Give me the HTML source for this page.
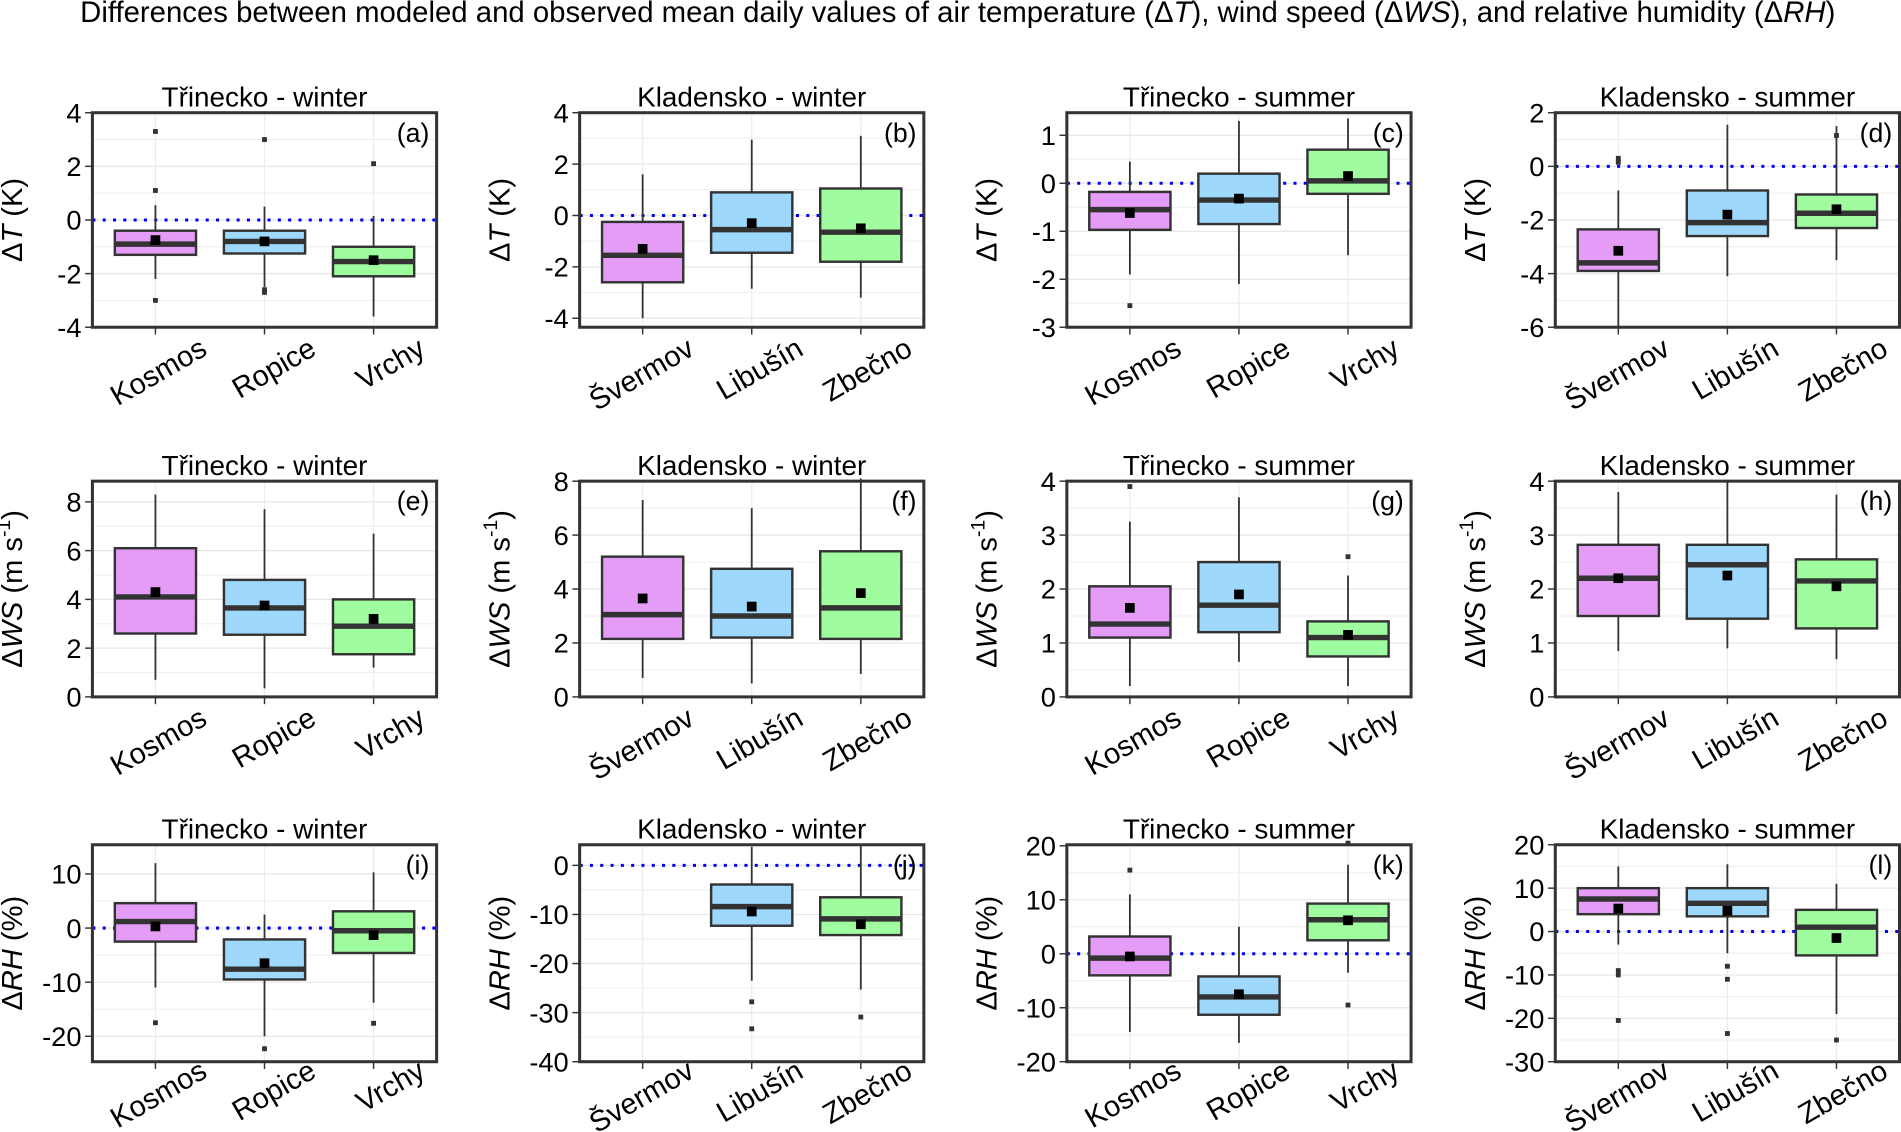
<!DOCTYPE html>
<html><head><meta charset="utf-8"><style>
html,body{margin:0;padding:0;background:#fff;}
svg{display:block;font-family:"Liberation Sans",sans-serif;}
</style></head><body>
<svg id="fig" width="1901" height="1132" viewBox="0 0 1568 934" xmlns="http://www.w3.org/2000/svg">
<text x="790" y="18" font-size="24.2" text-anchor="middle">Differences between modeled and observed mean daily values of air temperature (Δ<tspan font-style="italic">T</tspan>), wind speed (Δ<tspan font-style="italic">WS</tspan>), and relative humidity (Δ<tspan font-style="italic">RH</tspan>)</text>
</svg>
<script>
// categories
const trinCats = ["Kosmos","Ropice","Vrchy"];
const kladCats = ["Švermov","Libušín","Zbečno"];
const titles = ["Třinecko - winter","Kladensko - winter","Třinecko - summer","Kladensko - summer"];
const letters = ["a","b","c","d","e","f","g","h","i","j","k","l"];
// y tick labels per panel
const ticksA=[-4,-2,0,2,4], ticksB=[-4,-2,0,2,4], ticksC=[-3,-2,-1,0,1], ticksD=[-6,-4,-2,0,2];
const ticksE=[0,2,4,6,8], ticksF=[0,2,4,6,8], ticksG=[0,1,2,3,4], ticksH=[0,1,2,3,4];
const ticksI=[-20,-10,0,10], ticksJ=[-40,-30,-20,-10,0], ticksK=[-20,-10,0,10,20], ticksL=[-30,-20,-10,0,10,20];
// y domains [min,max]
const domA=[-4,4], domB=[-4.35,4], domC=[-3,1.47], domD=[-6,2], domE=[0,8.85], domF=[0,8.0], domG=[0,4], domH=[0,4];
const domI=[-24.7,15.4], domJ=[-40,4.2], domK=[-20,20.2], domL=[-30,20];
// box stats per category: [q1,q3,median,mean,whiskerLow,whiskerHigh]
const statsA=[[-1.3,-0.4,-0.9,-0.75,-2.2,0.55],[-1.25,-0.4,-0.8,-0.8,-2.5,0.5],[-2.1,-1.0,-1.55,-1.5,-3.6,0.15]];
const outA=[[3.3,1.1,-3.0],[3.0,-2.6,-2.7],[2.1]];
const statsB=[[-2.6,-0.25,-1.55,-1.3,-4.0,1.6],[-1.45,0.9,-0.55,-0.3,-2.85,2.95],[-1.8,1.05,-0.65,-0.5,-3.2,3.1]];
const outB=[[],[],[]];
const statsC=[[-0.97,-0.18,-0.55,-0.62,-1.9,0.45],[-0.85,0.2,-0.35,-0.32,-2.1,1.3],[-0.22,0.7,0.05,0.15,-1.5,1.35]];
const outC=[[-2.55],[],[]];
const statsD=[[-3.9,-2.35,-3.6,-3.15,-6.0,-0.9],[-2.6,-0.9,-2.1,-1.8,-4.1,1.55],[-2.3,-1.05,-1.75,-1.6,-3.5,1.5]];
const outD=[[0.3,0.15],[],[1.15]];
const statsE=[[2.6,6.1,4.1,4.3,0.7,8.3],[2.55,4.8,3.65,3.75,0.35,7.7],[1.75,4.0,2.9,3.2,1.2,6.7]];
const outE=[[],[],[]];
const statsF=[[2.15,5.2,3.05,3.65,0.7,7.3],[2.2,4.75,3.0,3.35,0.5,7.0],[2.15,5.4,3.3,3.85,0.85,8.1]];
const outF=[[],[],[]];
const statsG=[[1.1,2.05,1.35,1.65,0.2,3.25],[1.2,2.5,1.7,1.9,0.65,3.7],[0.75,1.4,1.1,1.15,0.2,2.25]];
const outG=[[3.9],[],[2.6]];
const statsH=[[1.5,2.82,2.2,2.2,0.85,3.8],[1.45,2.82,2.45,2.25,0.9,4.0],[1.27,2.55,2.15,2.05,0.7,3.75]];
const outH=[[],[],[]];
const statsI=[[-2.5,4.6,1.2,0.3,-11,12],[-9.5,-2.1,-7.6,-6.5,-20,2.5],[-4.6,3.1,-0.5,-1.3,-13.8,10.3]];
const outI=[[-17.5],[-22.3],[-17.6]];
const statsJ=[null,[-12.3,-3.9,-8.4,-9.4,-23.5,3.8],[-14.2,-6.5,-10.9,-12,-25.3,4.3]];
const outJ=[[],[-27.8,-33.3],[-30.9]];
const statsK=[[-4,3.2,-0.8,-0.5,-14.5,11],[-11.3,-4.2,-8,-7.5,-16.5,5],[2.5,9.3,6.3,6.2,-3.5,16.5]];
const outK=[[15.5],[],[20.5,-9.5]];
const statsL=[[4,10,7.5,5.3,-3,15],[3.5,10,6.5,4.8,-5,15.5],[-5.5,5,1,-1.5,-19,11]];
const outL=[[-9,-10,-20.5],[-8,-11,-23.5],[-25]];

const NS="http://www.w3.org/2000/svg";
const svg=document.getElementById("fig");
function mk(tag,attrs,parent){const e=document.createElementNS(NS,tag);for(const k in attrs)e.setAttribute(k,attrs[k]);(parent||svg).appendChild(e);return e;}
const colLeft=[76,478,880,1283], W=284;
const rowTop=[93,397,697], rowBot=[270,575,876];
const labOff=[22,22,12];
const fills=["#e49cf7","#9ed8fc","#9ffc9f"];
const panels=[
 [ticksA,domA,statsA,outA,true],[ticksB,domB,statsB,outB,true],[ticksC,domC,statsC,outC,true],[ticksD,domD,statsD,outD,true],
 [ticksE,domE,statsE,outE,false],[ticksF,domF,statsF,outF,false],[ticksG,domG,statsG,outG,false],[ticksH,domH,statsH,outH,false],
 [ticksI,domI,statsI,outI,true],[ticksJ,domJ,statsJ,outJ,true],[ticksK,domK,statsK,outK,true],[ticksL,domL,statsL,outL,true]];
const ylabs=[["T"," (K)"],["WS",""],["RH"," (%)"]];
panels.forEach((p,idx)=>{
 const [ticks,dom,stats,outs,zero]=p;
 const r=Math.floor(idx/4), c=idx%4;
 const L=colLeft[c], R=L+W, T=rowTop[r], B=rowBot[r];
 const g=mk("g",{});
 
 
 const ys=v=>B-(v-dom[0])/(dom[1]-dom[0])*(B-T);
 const xs=i=>L+52+90*i;
 for(let i=0;i<ticks.length;i++){
  const v=ticks[i];
  const gl=mk("line",{x1:L,x2:R,y1:ys(v),y2:ys(v),stroke:"#e6e6e6","stroke-width":1},g);
  
  
  if(i<ticks.length-1){const m=(v+ticks[i+1])/2;mk("line",{x1:L,x2:R,y1:ys(m),y2:ys(m),stroke:"#f0f0f0","stroke-width":1},g);}
  mk("line",{x1:L-6,x2:L,y1:ys(v),y2:ys(v),stroke:"#333","stroke-width":1.2},g);
  const tx=mk("text",{x:L-9,y:ys(v)+8,"font-size":22.5,"text-anchor":"end"},g);
  tx.textContent=String(v);
  
  
 }
 for(let i=0;i<3;i++) mk("line",{x1:xs(i),x2:xs(i),y1:T,y2:B,stroke:"#ececec","stroke-width":1},g);
 if(zero){const z=mk("line",{x1:L,x2:R,y1:ys(0),y2:ys(0),stroke:"#0000ff","stroke-width":2.5,"stroke-dasharray":"2.5 6"},g);
  
  }
 const cats=(c%2===0)?trinCats:kladCats;
 for(let i=0;i<3;i++){
  const x=xs(i), s=stats[i];
  if(s){
   const [q1,q3,med,mean,wl,wh]=s;
   mk("line",{x1:x,x2:x,y1:ys(wh),y2:ys(q3),stroke:"#333","stroke-width":1.5},g);
   mk("line",{x1:x,x2:x,y1:ys(q1),y2:ys(wl),stroke:"#333","stroke-width":1.5},g);
   const b=mk("rect",{x:x-33.5,y:ys(q3),width:67,height:ys(q1)-ys(q3),fill:fills[i],stroke:"#333","stroke-width":2},g);
   
   
   mk("line",{x1:x-33.5,x2:x+33.5,y1:ys(med),y2:ys(med),stroke:"#333","stroke-width":4.5},g);
   const mm=mk("rect",{x:x-4,y:ys(mean)-4,width:8,height:8,fill:"#000"},g);
   
   
  }
  outs[i].forEach(o=>{const od=mk("rect",{x:x-2,y:ys(o)-2,width:4,height:4,fill:"#333"},g);
   
   });
  mk("line",{x1:x,x2:x,y1:B,y2:B+6,stroke:"#333","stroke-width":1.2},g);
  const xl=mk("text",{"font-size":24,"text-anchor":"end",transform:`translate(${x+44},${B+labOff[r]}) rotate(-30)`},g);
  xl.textContent=cats[i];
  
  
 }
 const fr=mk("rect",{x:L,y:T,width:W,height:B-T,fill:"none",stroke:"#333","stroke-width":2.5},g);
 
 
 const t=mk("text",{x:L+142,y:T-5,"font-size":23,"text-anchor":"middle"},g);
 t.textContent=titles[c];
 
 
 const lt=mk("text",{x:R-6,y:T+24,"font-size":22,"text-anchor":"end"},g);
 lt.textContent="("+letters[idx]+")";
 
 
 const yl=mk("text",{"font-size":24,"text-anchor":"middle",transform:`translate(${L-58},${(T+B)/2}) rotate(-90)`},g);
 
 
 const t1=mk("tspan",{},yl);t1.textContent="Δ";
 const t2=mk("tspan",{"font-style":"italic"},yl);t2.textContent=ylabs[r][0];
 if(r===1){const t3=mk("tspan",{},yl);t3.textContent=" (m s";const t4=mk("tspan",{dy:-10,"font-size":16},yl);t4.textContent="-1";const t5=mk("tspan",{dy:10},yl);t5.textContent=")";}
 else{const t3=mk("tspan",{},yl);t3.textContent=ylabs[r][1];}
});
</script>
</body></html>
